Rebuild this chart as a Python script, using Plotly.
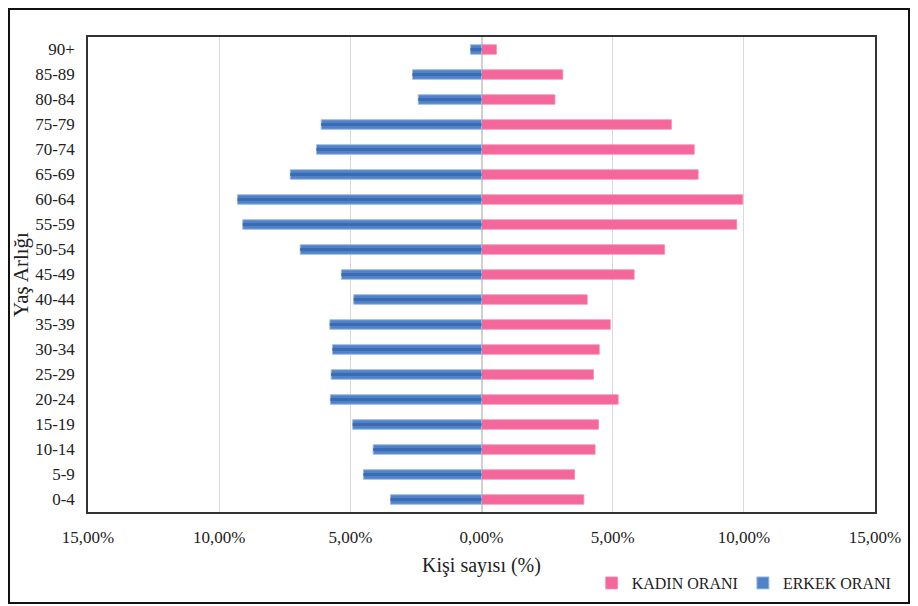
import plotly.graph_objects as go

age_groups = ["0-4", "5-9", "10-14", "15-19", "20-24", "25-29", "30-34", "35-39",
              "40-44", "45-49", "50-54", "55-59", "60-64", "65-69", "70-74",
              "75-79", "80-84", "85-89", "90+"]
kadin = [3.90, 3.55, 4.33, 4.46, 5.21, 4.27, 4.49, 4.91, 4.03, 5.82, 6.98,
         9.73, 9.96, 8.26, 8.11, 7.24, 2.80, 3.10, 0.57]
erkek = [3.47, 4.50, 4.13, 4.91, 5.76, 5.73, 5.68, 5.78, 4.87, 5.34, 6.91,
         9.10, 9.30, 7.29, 6.29, 6.11, 2.41, 2.63, 0.42]
tick_vals = [-15, -10, -5, 0, 5, 10, 15]
tick_text = ["15,00%", "10,00%", "5,00%", "0,00%", "5,00%", "10,00%", "15,00%"]

font_family = "Liberation Serif, Times New Roman, serif"
erkek_neg = [-v for v in erkek]

fig = go.Figure()
fig.add_trace(go.Bar(
    y=age_groups, x=kadin, orientation="h", name="KADIN ORANI",
    marker=dict(color="#F4679A", line=dict(color="#F78CB1", width=0.8)),
    width=0.38,
))
fig.add_trace(go.Bar(
    y=age_groups, x=erkek_neg, orientation="h", name="ERKEK ORANI",
    marker=dict(color="#4F82C9", line=dict(color="#9DBAE2", width=1)),
    width=0.38,
))
fig.add_trace(go.Bar(
    y=age_groups, x=erkek_neg, orientation="h", name="ERKEK ORANI",
    marker=dict(color="#3A6BB3", line=dict(width=0)),
    width=0.12, showlegend=False, hoverinfo="skip",
))

fig.update_layout(
    width=910, height=598,
    margin=dict(l=80, r=43, t=29, b=94, autoexpand=False),
    paper_bgcolor="white", plot_bgcolor="white",
    barmode="overlay",
    font=dict(family=font_family, size=17, color="#222222"),
    showlegend=True,
    legend=dict(orientation="h", x=0.64, y=-0.1495, xanchor="left", yanchor="middle",
                font=dict(size=16, color="#222222"), itemwidth=30,
                traceorder="normal", bgcolor="rgba(0,0,0,0)"),
    xaxis=dict(
        range=[-15, 15], tickvals=tick_vals, ticktext=tick_text,
        showgrid=True, gridcolor="#D9D9D9", gridwidth=1,
        zeroline=True, zerolinecolor="#D0D0D0", zerolinewidth=1.5,
        showline=True, linecolor="#333333", linewidth=1.5, mirror=True,
        ticks="", ticklabelstandoff=9, automargin=False,
        title=dict(text="Kişi sayısı (%)", font=dict(size=20), standoff=12),
        tickfont=dict(size=17),
    ),
    yaxis=dict(
        type="category", categoryorder="array", categoryarray=age_groups,
        showgrid=False, showline=True, linecolor="#333333", linewidth=1.5, mirror=True,
        ticks="", ticklabelstandoff=8, automargin=False,
        title=dict(text="Yaş Arlığı", font=dict(size=21), standoff=1),
        tickfont=dict(size=17),
        range=[-0.5, 18.5],
    ),
    shapes=[dict(type="rect", xref="paper", yref="paper",
                 x0=-0.1004, x1=1.0432, y0=-0.1916, y1=1.0589,
                 line=dict(color="#111111", width=2), fillcolor="rgba(0,0,0,0)",
                 layer="above")],
)

fig.write_html("out.html")
